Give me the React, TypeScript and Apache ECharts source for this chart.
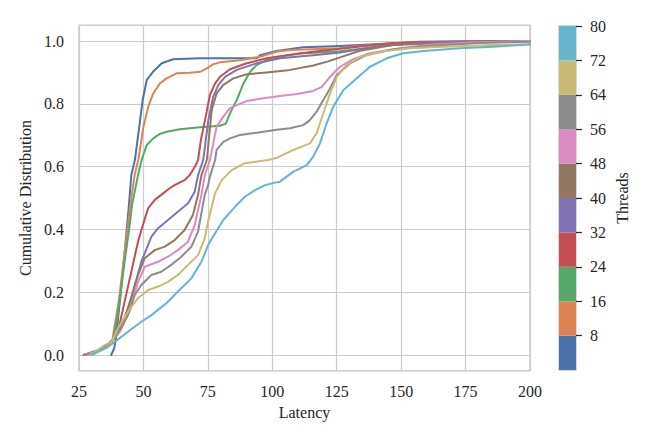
import React, { useEffect, useRef } from "react";
import * as echarts from "echarts";

const THREADS = [8, 16, 24, 32, 40, 48, 56, 64, 72, 80];
const COLORS = ["#4c72b0", "#dd8452", "#55a868", "#c44e52", "#8172b3", "#937860", "#da8bc3", "#8c8c8c", "#ccb974", "#64b5cd"];
const Y_TICKS = [0, 0.2, 0.4, 0.6, 0.8, 1.0];
const CB_TICKS = [8, 16, 24, 32, 40, 48, 56, 64, 72, 80];

const cdf8 = [[37.5,0],[38.6,0.02],[39.3,0.05],[40.9,0.175],[42.8,0.334],[44.4,0.48],[45.3,0.573],[46.7,0.621],[48.7,0.748],[49.7,0.812],[51.3,0.876],[53.7,0.902],[57.1,0.929],[61.5,0.942],[72,0.945],[94,0.945],[95.2,0.955],[101.7,0.968],[111.9,0.98],[126.3,0.984],[146.8,0.993],[169,0.997],[200,1.0]];
const cdf16 = [[26.9,0],[33.1,0.016],[37.8,0.041],[40.5,0.175],[42.8,0.334],[45.2,0.494],[46.6,0.573],[48.0,0.621],[50.0,0.727],[51.9,0.791],[53.8,0.833],[56.4,0.865],[59.0,0.881],[62.9,0.897],[68.1,0.899],[72.0,0.902],[74.6,0.913],[77.1,0.926],[79.7,0.932],[87.5,0.939],[95.2,0.95],[101.7,0.966],[106.9,0.971],[126.3,0.977],[137.9,0.987],[153.4,0.997],[200,1.0]];
const cdf24 = [[26.9,0],[33.1,0.016],[38.2,0.048],[39.7,0.111],[41.3,0.207],[42.8,0.303],[44.4,0.398],[45.6,0.478],[47.9,0.573],[49.3,0.621],[51.3,0.669],[53.8,0.69],[56.4,0.704],[59.0,0.711],[64.2,0.719],[72.0,0.725],[79.7,0.73],[82.0,0.737],[83.6,0.77],[86.2,0.812],[88.8,0.865],[91.4,0.902],[94.0,0.924],[97.8,0.939],[103.0,0.95],[110.8,0.96],[126.3,0.967],[149.6,0.99],[200,1.0]];
const cdf32 = [[26.9,0],[33.1,0.016],[38.2,0.048],[40.1,0.074],[42.7,0.17],[45.3,0.265],[47.9,0.361],[49.8,0.414],[51.8,0.467],[54.4,0.494],[56.9,0.51],[60.2,0.531],[62.1,0.541],[66.0,0.557],[68.0,0.573],[70.0,0.6],[71.2,0.621],[72.3,0.685],[73.9,0.748],[75.8,0.828],[77.8,0.865],[79.7,0.886],[83.6,0.91],[90.1,0.929],[97.8,0.945],[105.6,0.955],[115.8,0.966],[126.3,0.975],[141.8,0.99],[157.3,0.998],[200,1.0]];
const cdf40 = [[26.9,0],[33.1,0.016],[38.2,0.048],[41.0,0.085],[44.0,0.127],[46.0,0.202],[49.2,0.297],[53.1,0.377],[55.7,0.404],[59.5,0.43],[63.4,0.456],[67.3,0.483],[69.9,0.52],[71.2,0.573],[73.2,0.621],[75.2,0.748],[77.1,0.823],[79.1,0.86],[81.7,0.886],[86.2,0.908],[94.0,0.929],[103.0,0.945],[115.9,0.955],[126.3,0.963],[141.8,0.984],[161.2,0.997],[200,1.0]];
const cdf48 = [[26.9,0],[33.1,0.016],[38.2,0.048],[41.0,0.08],[44.0,0.15],[47.9,0.255],[50.5,0.308],[54.4,0.334],[58.3,0.345],[62.1,0.366],[66.0,0.398],[69.2,0.446],[71.2,0.51],[72.5,0.573],[74.6,0.621],[76.5,0.78],[78.4,0.833],[81.0,0.86],[84.9,0.881],[90.1,0.894],[97.8,0.9],[106.9,0.908],[115.9,0.922],[121.7,0.935],[126.3,0.948],[134.0,0.969],[146.8,0.987],[180.6,0.998],[200,1.0]];
const cdf56 = [[26.9,0],[33.1,0.016],[38.2,0.048],[41.0,0.075],[44.0,0.13],[47.9,0.233],[50.5,0.281],[53.1,0.289],[55.7,0.297],[59.5,0.313],[63.4,0.334],[67.3,0.361],[69.9,0.414],[72.5,0.51],[73.8,0.573],[75.8,0.621],[78.4,0.727],[81.0,0.759],[83.6,0.786],[86.2,0.796],[90.1,0.809],[96.5,0.818],[103.0,0.825],[109.5,0.831],[115.9,0.841],[119.2,0.854],[122.4,0.886],[126.3,0.918],[131.4,0.942],[137.9,0.961],[147.0,0.974],[159.9,0.987],[176.7,0.995],[200,1.0]];
const cdf64 = [[26.7,0],[29.3,0.003],[33.1,0.016],[38.2,0.048],[41.6,0.09],[44.8,0.143],[46.6,0.191],[49.2,0.223],[53.1,0.255],[56.9,0.265],[60.8,0.287],[64.7,0.313],[68.6,0.345],[71.2,0.393],[73.8,0.51],[75.1,0.541],[75.8,0.568],[77.8,0.621],[78.4,0.653],[81.0,0.679],[83.6,0.69],[87.5,0.701],[94.0,0.708],[101.7,0.717],[106.9,0.722],[112.0,0.732],[114.6,0.748],[117.2,0.775],[119.8,0.812],[122.4,0.849],[125.0,0.892],[130.2,0.929],[136.6,0.955],[147.0,0.974],[159.9,0.984],[180.6,0.994],[200,0.998]];
const cdf72 = [[29.3,0],[35.1,0.032],[37.7,0.042],[40.1,0.085],[44.0,0.138],[47.9,0.181],[51.8,0.207],[55.7,0.218],[59.5,0.233],[63.4,0.255],[67.3,0.287],[71.2,0.318],[73.8,0.372],[75.1,0.425],[77.8,0.515],[80.4,0.557],[84.3,0.589],[89.4,0.611],[98.5,0.621],[101.7,0.628],[108.2,0.653],[114.6,0.674],[117.2,0.706],[119.8,0.77],[122.4,0.833],[125.0,0.886],[128.9,0.924],[134.0,0.948],[141.8,0.966],[153.4,0.977],[166.4,0.982],[185.8,0.987],[200,0.99]];
const cdf80 = [[29.9,0],[36.4,0.026],[38.9,0.042],[44.0,0.074],[49.2,0.106],[53.1,0.127],[58.9,0.165],[63.4,0.202],[68.6,0.244],[72.5,0.297],[75.1,0.35],[77.8,0.388],[81.0,0.43],[85.5,0.472],[89.4,0.504],[93.3,0.525],[97.2,0.541],[101.1,0.549],[103.0,0.552],[108.2,0.584],[113.4,0.605],[115.9,0.632],[118.5,0.674],[121.1,0.738],[123.7,0.791],[127.6,0.844],[132.8,0.881],[137.9,0.918],[144.4,0.945],[150.8,0.961],[159.9,0.969],[172.8,0.977],[185.8,0.982],[200,0.989]];

const SERIES_DATA = [cdf8, cdf16, cdf24, cdf32, cdf40, cdf48, cdf56, cdf64, cdf72, cdf80];

const FONT = "'Liberation Serif', 'DejaVu Serif', serif";
const TEXT = "#262626";
const GRID = "#cccccc";

export default function App() {
  const ref = useRef<HTMLDivElement>(null);
  useEffect(() => {
    if (!ref.current) return;
    const chart = echarts.init(ref.current, null, { renderer: "svg" });
    const lineSeries = SERIES_DATA.map((d, i) => ({
      type: "line",
      name: String(THREADS[i]),
      xAxisIndex: 0,
      yAxisIndex: 0,
      data: d,
      showSymbol: false,
      symbol: "none",
      lineStyle: { width: 2, color: COLORS[i], join: "round", cap: "round" },
      itemStyle: { color: COLORS[i] },
      clip: false,
      z: 3,
    }));
    const cbSeries = THREADS.map((t, i) => ({
      type: "bar",
      xAxisIndex: 1,
      yAxisIndex: 1,
      stack: "cb",
      data: [8],
      barWidth: "100%",
      itemStyle: { color: COLORS[i] },
      silent: true,
    }));
    chart.setOption({
      animation: false,
      textStyle: { fontFamily: FONT },
      grid: [
        { left: 79, top: 25.3, width: 451, height: 345.4, show: true, borderColor: GRID, borderWidth: 1.5, backgroundColor: "transparent" },
        { left: 559, top: 26, width: 17, height: 344, show: true, borderColor: GRID, borderWidth: 1.5, backgroundColor: "transparent" },
      ],
      xAxis: [
        {
          type: "value",
          gridIndex: 0,
          min: 25,
          max: 200,
          interval: 25,
          axisLine: { show: false },
          axisTick: { show: false },
          axisLabel: { color: TEXT, fontSize: 16, fontFamily: FONT, margin: 13 },
          splitLine: { show: true, lineStyle: { color: GRID, width: 1.2 } },
          name: "Latency",
          nameLocation: "middle",
          nameGap: 34,
          nameTextStyle: { color: TEXT, fontSize: 16, fontFamily: FONT },
        },
        {
          type: "category",
          gridIndex: 1,
          data: ["c"],
          show: false,
        },
      ],
      yAxis: [
        {
          type: "value",
          gridIndex: 0,
          min: -0.05,
          max: 1.05,
          axisLine: { show: false },
          axisTick: { show: false, customValues: Y_TICKS },
          axisLabel: { color: TEXT, fontSize: 16, fontFamily: FONT, margin: 15, customValues: Y_TICKS, formatter: (v: number) => v.toFixed(1) },
          splitLine: { show: true, lineStyle: { color: GRID, width: 1.2 } },
          name: "Cumulative Distribution",
          nameLocation: "middle",
          nameGap: 45,
          nameRotate: 90,
          nameTextStyle: { color: TEXT, fontSize: 16, fontFamily: FONT },
        },
        {
          type: "value",
          gridIndex: 1,
          min: 0,
          max: 80,
          position: "right",
          axisLine: { show: false },
          axisTick: { show: true, inside: false, length: 6, customValues: CB_TICKS, lineStyle: { color: TEXT, width: 1.2 } },
          axisLabel: { color: TEXT, fontSize: 16, fontFamily: FONT, margin: 14, customValues: CB_TICKS },
          splitLine: { show: false },
          name: "Threads",
          nameLocation: "middle",
          nameGap: 38,
          nameRotate: 90,
          nameTextStyle: { color: TEXT, fontSize: 16, fontFamily: FONT },
        },
      ],
      series: [...lineSeries, ...cbSeries],
    });
    return () => chart.dispose();
  }, []);
  return <div ref={ref} style={{ position: "absolute", left: 0, top: 0, width: 664, height: 443 }} />;
}
